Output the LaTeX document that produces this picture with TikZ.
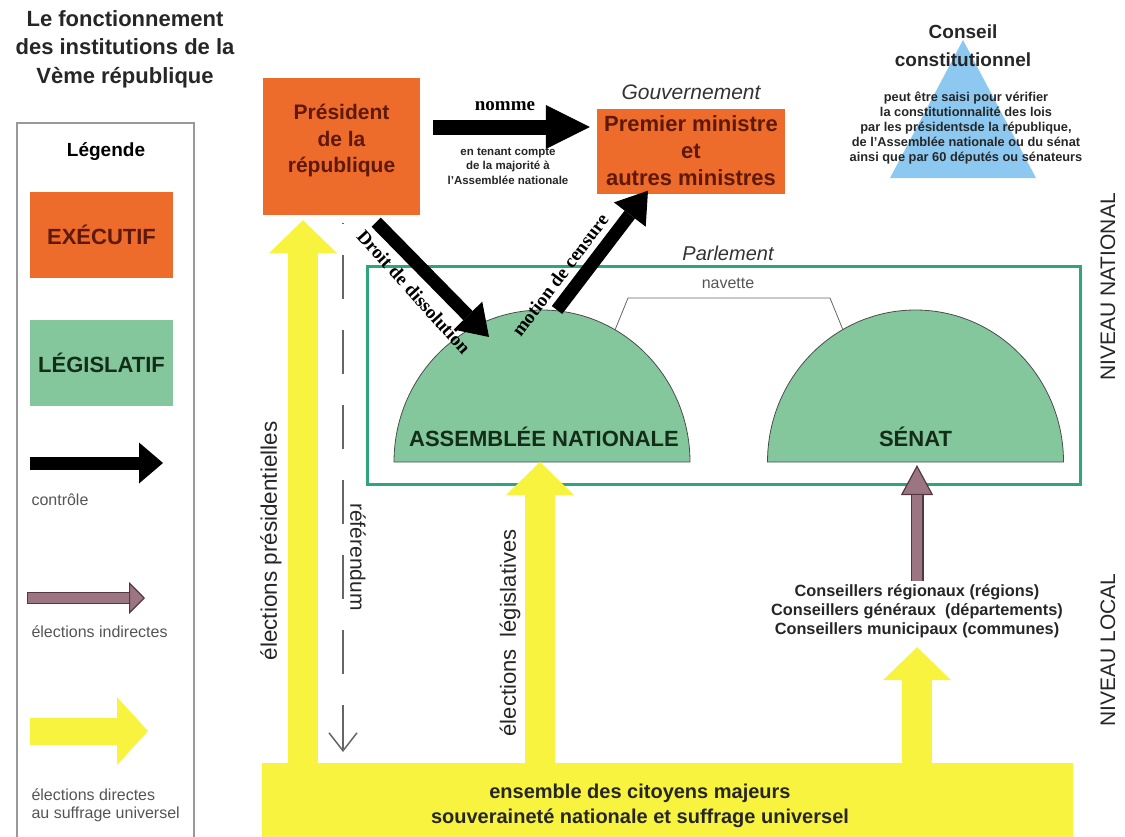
\documentclass[tikz,border=0pt]{standalone}
\usepackage{fontspec}
\setmainfont{Liberation Sans}
\newfontfamily\timesfont{Liberation Serif}
\usetikzlibrary{arrows.meta,positioning,calc}

\definecolor{execorange}{RGB}{237,107,43}
\definecolor{exectext}{RGB}{95,25,10}
\definecolor{legisgreen}{RGB}{132,199,157}
\definecolor{legistext}{RGB}{20,45,25}
\definecolor{parlgreen}{RGB}{45,165,125}
\definecolor{electyellow}{RGB}{247,243,62}
\definecolor{indirmauve}{RGB}{155,118,130}
\definecolor{indirdark}{RGB}{85,55,65}
\definecolor{ccblue}{RGB}{140,200,240}
\definecolor{labelgray}{RGB}{85,85,85}

\begin{document}
\begin{tikzpicture}[
  x=1pt, y=-1pt,
  exec/.style={rectangle, fill=execorange, text=exectext, align=center, font=\bfseries\fontsize{21}{26.5}\selectfont},
  legbox/.style={rectangle, minimum width=143pt, minimum height=86pt, font=\bfseries\fontsize{22}{26}\selectfont},
  control/.style={draw=black, line width=13pt, -{Triangle[length=30pt,width=40pt,line width=0pt]}},
  direct/.style={draw=electyellow, line width=30pt, -{Triangle[length=33pt,width=68pt,line width=0pt]}},
  indirect/.style={draw=indirdark, line width=13pt, -{Triangle[length=30pt,width=32pt,line width=1.2pt,fill=indirmauve]}},
  indirfill/.style={draw=indirmauve, line width=10.6pt},
  dome/.style={fill=legisgreen, draw=black!70, line width=0.8pt},
  lbl/.style={font=\fontsize{16}{18}\selectfont, text=labelgray},
  vtext/.style={font=\fontsize{21}{24}\selectfont, text=black!85},
  ctrltext/.style={font=\timesfont\bfseries\fontsize{19}{22}\selectfont},
  smallbold/.style={font=\bfseries\fontsize{11.5}{14.5}\selectfont, text=black!85, align=center}
]
\useasboundingbox (0,0) rectangle (1125,836);

% Titre
\node[font=\bfseries\fontsize{22}{28.5}\selectfont, align=center, text=black!85] (titre) at (125,49)
  {Le fonctionnement\\des institutions de la\\Vème république};

% Legende
\draw[black!40, line width=1.5pt] (17,840) |- (194,123) -- (194,840);
\node[font=\bfseries\fontsize{19}{22}\selectfont] (legende) at (106,152) {Légende};
\node[legbox, fill=execorange, text=exectext] (legexec) at (101.5,235) {EXÉCUTIF};
\node[legbox, fill=legisgreen, text=legistext] (leglegis) at (101.5,363) {LÉGISLATIF};
\coordinate (ctrlA) at (30,463);
\coordinate (ctrlB) at (163,463);
\draw[control, -{Triangle[length=24pt,width=41pt,line width=0pt]}] (ctrlA) -- (ctrlB);
\node[lbl, anchor=west] (lblctrl) at (28,500) {contrôle};
\coordinate (indA) at (27,598);
\coordinate (indB) at (145,598);
\draw[indirect, line width=12pt, -{Triangle[length=16pt,width=32pt,line width=1.2pt,fill=indirmauve]}] (indA) -- (indB);
\draw[indirfill, line width=9.6pt, shorten <=1.2pt, shorten >=16pt] (indA) -- (indB);
\node[lbl, anchor=west] (lblindir) at (28,632) {élections indirectes};
\coordinate (dirA) at (30,731);
\coordinate (dirB) at (148,731);
\draw[direct, line width=27pt, -{Triangle[length=31pt,width=68pt,line width=0pt]}] (dirA) -- (dirB);
\node[lbl, anchor=north west, align=left] (lbldir) at (28,785) {élections directes\\au suffrage universel};

% Executif
\node[exec, minimum width=157pt, minimum height=137pt, text depth=16pt] (pres) at (341.5,146.5) {Président\\de la\\république};
\node[exec, minimum width=188pt, minimum height=85pt, font=\bfseries\fontsize{22}{27}\selectfont] (pm) at (691,151)
  {Premier ministre\\et\\autres ministres};
\node[above=5pt of pm, font=\itshape\fontsize{21}{24}\selectfont, text=black!80] (gouv) {Gouvernement};

\coordinate (nomA) at (433,127);
\draw[control, line width=15pt, -{Triangle[length=44pt,width=44pt,line width=0pt]}, shorten >=7pt] (nomA) -- (nomA -| pm.west);
\node[ctrltext] (nomme) at (505,106) {nomme};
\node[smallbold] (tenant) at (508,166) {en tenant compte\\de la majorité à\\l'Assemblée nationale};

% Conseil constitutionnel
\fill[ccblue] (963,40) -- (1036,178) -- (890,178) -- cycle;
\node[font=\bfseries\fontsize{19}{28}\selectfont, align=center, text=black!85] (conseil) at (963,46) {Conseil\\constitutionnel};
\node[smallbold, font=\bfseries\fontsize{12.8}{14.8}\selectfont] (saisine) at (966,128) {peut être saisi pour vérifier\\la constitutionnalité des lois\\par les présidentsde la république,\\de l'Assemblée nationale ou du sénat\\ainsi que par 60 députés ou sénateurs};

% Parlement
\node[font=\itshape\fontsize{20}{24}\selectfont, text=black!80] (parl) at (728,253) {Parlement};
\draw[parlgreen, line width=3pt] (367,266) rectangle (1080,484);
\coordinate (anbase) at (542,462);
\coordinate (senbase) at (915.5,462);
\draw[dome] (394,462) arc[start angle=180, end angle=360, x radius=148, y radius=152] -- cycle;
\draw[dome] (767.5,462) arc[start angle=180, end angle=360, x radius=148, y radius=152] -- cycle;
\node[font=\bfseries\fontsize{22}{24}\selectfont, text=legistext] (an) at (544,437) {ASSEMBLÉE NATIONALE};
\node[font=\bfseries\fontsize{22}{24}\selectfont, text=legistext] (senat) at (915.5,437) {SÉNAT};
\node[lbl] (navette) at (728,283) {navette};
\draw[black!60, line width=0.8pt] (615,330) -- (628,298) -- (830,298) -- (843,330);

% Controle
\coordinate (dissA) at ($(pres.south east)+(-44,7)$);
\coordinate (dissB) at (489,337);
\draw[control] (dissA) -- (dissB);
\node[ctrltext, rotate=-48] (dissol) at (414,292) {Droit de dissolution};
\coordinate (censA) at (557,310);
\coordinate (censB) at ($(pm.south)+(-43,-3)$);
\draw[control] (censA) -- (censB);
\node[ctrltext, rotate=53] (censure) at (560,275) {motion de censure};

% Citoyens
\fill[electyellow] (262,763) rectangle (1073,840);
\node[font=\bfseries\fontsize{20}{25}\selectfont, align=center, text=black!85] (citoyens) at (640,806)
  {ensemble des citoyens majeurs\\souveraineté nationale et suffrage universel};

% Elections
\coordinate (presSrc) at (303,768);
\draw[direct, shorten >=5pt] (presSrc) -- (presSrc |- pres.south);
\node[vtext, font=\fontsize{22.5}{24}\selectfont, rotate=90] (elpres) at (271,541) {élections présidentielles};
\coordinate (refA) at (343,223);
\coordinate (refB) at (343,752);
\draw[black!60, line width=1.5pt, dash pattern=on 44pt off 31pt, dash phase=43pt, -{Straight Barb[length=18pt,width=28pt]}] (refA) -- (refB);
\node[vtext, rotate=-90] (referendum) at (358,557) {référendum};
\coordinate (legSrc) at (540,768);
\draw[direct] (legSrc) -- (legSrc |- anbase);
\node[vtext, font=\fontsize{22}{24}\selectfont, rotate=90] (ellegis) at (510,633) {élections\ \ législatives};

\node[font=\bfseries\fontsize{16.3}{19}\selectfont, align=center, text=black!85] (conseillers) at (917,611)
  {Conseillers régionaux (régions)\\Conseillers généraux\ \ (départements)\\Conseillers municipaux (communes)};
\draw[indirect] (conseillers.north) -- ($(conseillers.north |- senbase)+(0,3)$);
\draw[indirfill, shorten >=30pt] (conseillers.north) -- ($(conseillers.north |- senbase)+(0,3)$);
\coordinate (conSrc) at (917,768);
\draw[direct, shorten >=6pt] (conSrc) -- (conseillers.south);

% Niveaux
\node[vtext, rotate=90] (natl) at (1108,287) {NIVEAU NATIONAL};
\node[vtext, rotate=90] (local) at (1108,650) {NIVEAU LOCAL};
\end{tikzpicture}
\end{document}
